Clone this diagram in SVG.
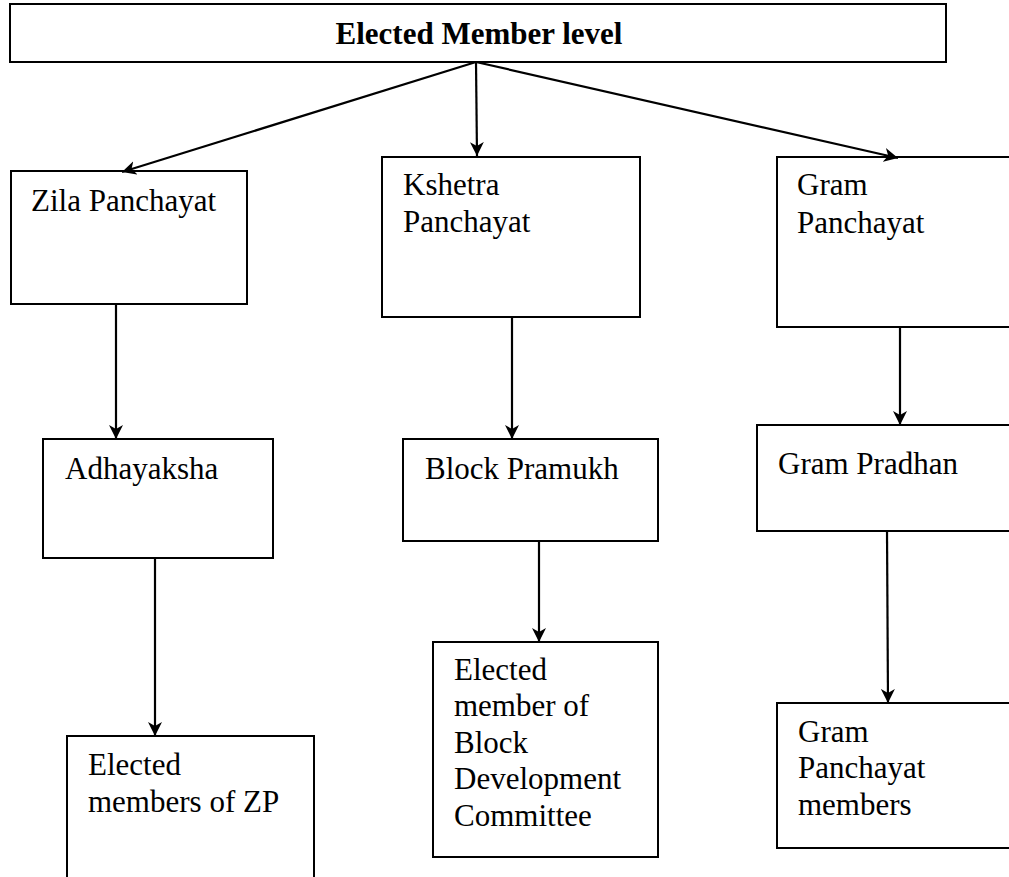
<svg xmlns="http://www.w3.org/2000/svg" width="1009" height="877" viewBox="0 0 1009 877">
<style>
.box{fill:#fff;stroke:#000;stroke-width:2}
.t{font-family:"Liberation Serif","Times New Roman",serif;font-size:31px;fill:#000}
.title{font-weight:bold}
.c{stroke:#000;stroke-width:2.2;fill:none;marker-end:url(#ah)}
</style>
<defs>
<marker id="ah" markerUnits="userSpaceOnUse" markerWidth="16" markerHeight="14" refX="14" refY="7" orient="auto">
<path d="M0,0 L14,7 L0,14 L4,7 Z" fill="#000"/>
</marker>
</defs>
<rect width="1009" height="877" fill="#fff"/>
<g id="top">
<rect class="box" x="10" y="4" width="936" height="58"/>
<text class="t title" x="479" y="44" text-anchor="middle">Elected Member level</text>
</g>
<g id="zila">
<rect class="box" x="11" y="171" width="236" height="133"/>
<text class="t" x="31" y="211">Zila Panchayat</text>
</g>
<g id="kshetra">
<rect class="box" x="382" y="157" width="258" height="160"/>
<text class="t" x="403" y="195">Kshetra</text>
<text class="t" x="403" y="232">Panchayat</text>
</g>
<g id="gram">
<rect class="box" x="777" y="157" width="240" height="170"/>
<text class="t" x="797" y="195">Gram</text>
<text class="t" x="797" y="233">Panchayat</text>
</g>
<g id="adhayaksha">
<rect class="box" x="43" y="439" width="230" height="119"/>
<text class="t" x="65" y="479">Adhayaksha</text>
</g>
<g id="pramukh">
<rect class="box" x="403" y="439" width="255" height="102"/>
<text class="t" x="425" y="479">Block Pramukh</text>
</g>
<g id="pradhan">
<rect class="box" x="757" y="425" width="260" height="106"/>
<text class="t" x="778" y="474">Gram Pradhan</text>
</g>
<g id="zpmembers">
<rect class="box" x="67" y="736" width="247" height="150"/>
<text class="t" x="88" y="775">Elected</text>
<text class="t" x="88" y="812">members of ZP</text>
</g>
<g id="bdcmembers">
<rect class="box" x="433" y="642" width="225" height="215"/>
<text class="t" x="454" y="680">Elected</text>
<text class="t" x="454" y="716">member of</text>
<text class="t" x="454" y="753">Block</text>
<text class="t" x="454" y="789">Development</text>
<text class="t" x="454" y="826">Committee</text>
</g>
<g id="gpmembers">
<rect class="box" x="777" y="703" width="240" height="145"/>
<text class="t" x="798" y="742">Gram</text>
<text class="t" x="798" y="778">Panchayat</text>
<text class="t" x="798" y="815">members</text>
</g>
<g id="connectors">
<line class="c" x1="476" y1="62" x2="122" y2="172"/>
<line class="c" x1="476" y1="62" x2="477" y2="156"/>
<line class="c" x1="476" y1="62" x2="898" y2="158"/>
<line class="c" x1="116" y1="304" x2="116" y2="439"/>
<line class="c" x1="155" y1="558" x2="155" y2="736"/>
<line class="c" x1="512" y1="317" x2="512" y2="439"/>
<line class="c" x1="539" y1="541" x2="539" y2="642"/>
<line class="c" x1="900" y1="327" x2="900" y2="425"/>
<line class="c" x1="887" y1="531" x2="888" y2="703"/>
</g>
</svg>
